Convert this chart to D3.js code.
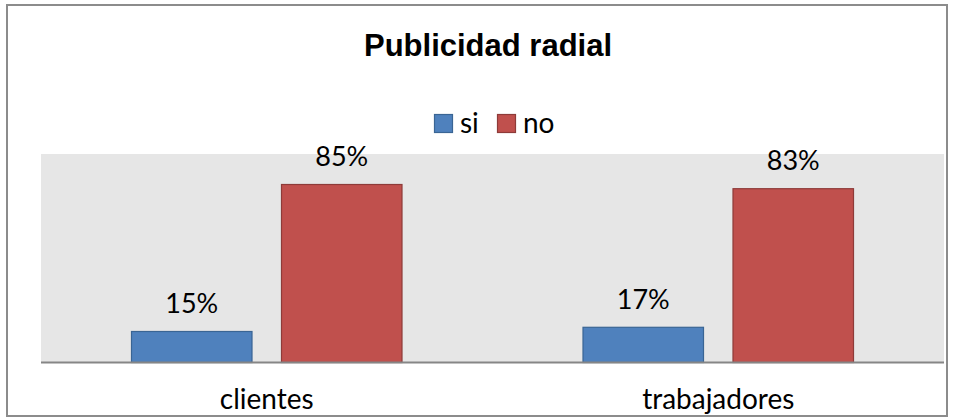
<!DOCTYPE html>
<html>
<head>
<meta charset="utf-8">
<script src="https://cdn.jsdelivr.net/npm/d3@7"></script>
<style>
  html, body { margin: 0; padding: 0; background: #fff; }
  svg { display: block; }
</style>
</head>
<body>
<svg id="chart" width="954" height="417"></svg>
<script>
const title = "Publicidad radial";
const categories = ["clientes", "trabajadores"];
const seriesNames = ["si", "no"];
const siValues = [15, 17];
const noValues = [85, 83];
const seriesColors = ["#4f81bd", "#c0504d"];
const seriesStrokes = ["#3a6594", "#8e3b39"];

const W = 954, H = 417;
const svg = d3.select("#chart");
const bodyFont = "Lato, 'Open Sans', sans-serif";

// frame
svg.append("rect").attr("x", 7).attr("y", 5).attr("width", 940).attr("height", 411)
  .attr("fill", "#fff").attr("stroke", "#8c8c8c").attr("stroke-width", 2);

const plot = { left: 41, right: 944, top: 154, bottom: 362.5 };

const x0 = d3.scaleBand().domain(categories).range([plot.left, plot.right]).padding(0);
const x1 = d3.scaleBand().domain(seriesNames)
  .range([90, x0.bandwidth() - 90]).paddingInner(0.19).paddingOuter(0);
const y = d3.scaleLinear().domain([0, 100]).range([plot.bottom, plot.bottom - 210]);

// plot background
svg.append("rect").attr("x", plot.left).attr("y", plot.top)
  .attr("width", plot.right - plot.left).attr("height", plot.bottom - plot.top)
  .attr("fill", "#e6e6e6");

const data = categories.map((c, i) => ({
  cat: c,
  values: [
    { s: "si", v: siValues[i], k: 0 },
    { s: "no", v: noValues[i], k: 1 }
  ]
}));

const groups = svg.append("g").selectAll("g").data(data).join("g")
  .attr("transform", d => `translate(${x0(d.cat)},0)`);

groups.selectAll("rect").data(d => d.values).join("rect")
  .attr("x", d => x1(d.s) + 0.5)
  .attr("y", d => y(d.v) + 0.5)
  .attr("width", x1.bandwidth() - 1)
  .attr("height", d => y(0) - y(d.v) - 0.5)
  .attr("fill", d => seriesColors[d.k])
  .attr("stroke", d => seriesStrokes[d.k])
  .attr("stroke-width", 1.2);

groups.selectAll("text").data(d => d.values).join("text")
  .attr("x", d => x1(d.s) + x1.bandwidth() / 2)
  .attr("y", d => y(d.v) - 18)
  .attr("text-anchor", "middle")
  .attr("font-family", bodyFont)
  .attr("font-size", 27)
  .attr("fill", "#000")
  .text(d => d.v + "%");

// baseline axis
const xAxis = d3.axisBottom(x0).tickSize(0).tickPadding(0);
const axisG = svg.append("g").attr("transform", `translate(0,${plot.bottom})`).call(xAxis);
axisG.select(".domain").attr("stroke", "#868686").attr("stroke-width", 2)
  .attr("d", `M${plot.left},0H${plot.right}`);
axisG.selectAll(".tick text")
  .attr("y", 46.5).attr("dy", 0)
  .attr("font-family", bodyFont).attr("font-size", 28).attr("fill", "#000");

// title
svg.append("text").attr("x", 488).attr("y", 56)
  .attr("text-anchor", "middle")
  .attr("font-family", "'Liberation Sans', Arial, sans-serif")
  .attr("font-weight", "bold").attr("font-size", 31)
  .attr("fill", "#000").text(title);

// legend
const legendItems = [
  { name: seriesNames[0], x: 434, tx: 460 },
  { name: seriesNames[1], x: 497, tx: 523 }
];
const lg = svg.append("g");
legendItems.forEach((it, i) => {
  lg.append("rect").attr("x", it.x + 0.5).attr("y", 114.5).attr("width", 18).attr("height", 18)
    .attr("fill", seriesColors[i]).attr("stroke", seriesStrokes[i]).attr("stroke-width", 1.2);
  lg.append("text").attr("x", it.tx).attr("y", 133)
    .attr("font-family", bodyFont).attr("font-size", 28).attr("fill", "#000").text(it.name);
});
</script>
</body>
</html>
